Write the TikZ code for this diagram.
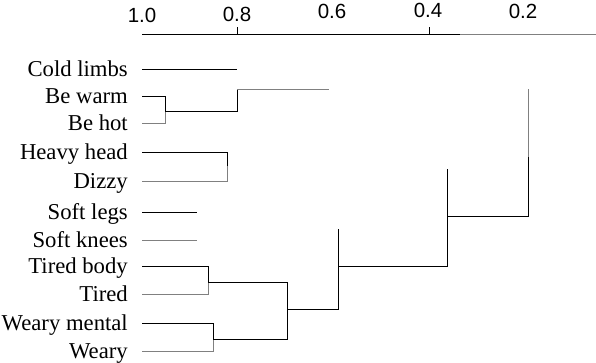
\documentclass[tikz,border=0pt]{standalone}
\usepackage{fontspec}
\setmainfont{Liberation Serif}
\newfontfamily\axisfont{Liberation Sans}
\begin{document}
\begin{tikzpicture}[
  x=1bp, y=-1bp,
  leaf/.style={
    anchor=base east, inner sep=0pt, xshift=-14bp, yshift=-7bp,
    font=\fontsize{22.7bp}{27bp}\selectfont
  },
  tick/.style={anchor=base, inner sep=0pt, font=\axisfont\fontsize{20.5bp}{24bp}\selectfont},
  link/.style={line width=0.9bp, black},
  faint/.style={line width=0.9bp, black!50}
]
\useasboundingbox (0,0) rectangle (596,362);

% Axis
\coordinate (a10) at (142,34);
\coordinate (a08) at (237,34);
\coordinate (a04) at (429,34);
\coordinate (abrk) at (460,34);
\coordinate (aend) at (596,34);
\draw[link] (a10) -- (abrk);
\draw[faint] (abrk) -- (aend);
\draw[link] (a08) -- ++(0,-7);
\draw[link] (a04) -- ++(0,-7);

\node[tick] (t10) at (142,22) {1.0};
\node[tick] (t08) at (237,21) {0.8};
\node[tick] (t06) at (332,18) {0.6};
\node[tick] (t04) at (428,17) {0.4};
\node[tick] (t02) at (523,18) {0.2};

% Leaves
\coordinate (cl) at (142,69);
\coordinate (bw) at (142,96);
\coordinate (bh) at (142,123);
\coordinate (hh) at (142,152);
\coordinate (dz) at (142,181);
\coordinate (sl) at (142,212);
\coordinate (sk) at (142,240);
\coordinate (tb) at (142,266);
\coordinate (td) at (142,294);
\coordinate (wm) at (142,323);
\coordinate (wy) at (142,351);

\node[leaf] (l-cl) at (cl) {Cold limbs};
\node[leaf] (l-bw) at (bw) {Be warm};
\node[leaf] (l-bh) at (bh) {Be hot};
\node[leaf] (l-hh) at (hh) {Heavy head};
\node[leaf] (l-dz) at (dz) {Dizzy};
\node[leaf] (l-sl) at (sl) {Soft legs};
\node[leaf] (l-sk) at (sk) {Soft knees};
\node[leaf] (l-tb) at (tb) {Tired body};
\node[leaf] (l-td) at (td) {Tired};
\node[leaf] (l-wm) at (wm) {Weary mental};
\node[leaf] (l-wy) at (wy) {Weary};

% Merge points
\coordinate (m1) at (165,111);
\coordinate (m2) at (237,89);
\coordinate (g1) at (329,89);
\coordinate (m3) at (227,166);
\coordinate (e-sl) at (197,212);
\coordinate (e-sk) at (197,240);
\coordinate (m4) at (208,282);
\coordinate (m5) at (213,339);
\coordinate (m6) at (287,309);
\coordinate (m7) at (338,266);
\coordinate (c7) at (338,229);
\coordinate (m8) at (447,216);
\coordinate (c8) at (447,169);
\coordinate (m9) at (528,157);
\coordinate (c9) at (528,89);

% Upper cluster
\draw[link] (cl) -- (cl -| m2);
\draw[link] (bw) -| (m1);
\draw[faint] (m1) |- (bh);
\draw[link] (m1) -| (m2);
\draw[faint] (m2) -- (g1);

\draw[link] (hh) -| (m3);
\draw[faint] (m3) |- (dz);

\draw[link] (sl) -- (e-sl);
\draw[faint] (sk) -- (e-sk);

% Lower cluster
\draw[link] (tb) -| (m4);
\draw[faint] (m4) |- (td);
\draw[link] (wm) -| (m5);
\draw[faint] (m5) |- (wy);
\draw[link] (m4) -| (m6);
\draw[link] (m6) |- (m5);
\draw[link] (m6) -| (c7);
\draw[link] (m7) -| (c8);
\draw[link] (m8) -| (m9);
\draw[faint] (m9) -- (c9);
\end{tikzpicture}
\end{document}
